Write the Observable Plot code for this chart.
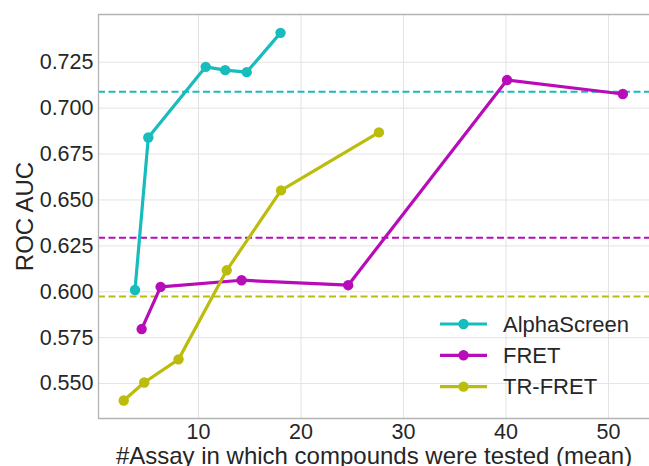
<!DOCTYPE html>
<html>
<head>
<meta charset="utf-8">
<script src="https://cdn.jsdelivr.net/npm/d3@7"></script>
<script src="https://cdn.jsdelivr.net/npm/@observablehq/plot@0.6"></script>
<style>
  html, body { margin: 0; padding: 0; background: #fff; }
  #chart svg { display: block; }
</style>
</head>
<body>
<div id="chart"></div>
<script>
// ---- Data ----
const seriesNames = ["AlphaScreen", "FRET", "TR-FRET"];
const seriesColors = ["#17bcbc", "#b80cb8", "#bcbc0c"];

const alphaX = [3.8, 5.1, 10.7, 12.6, 14.7, 18.0];
const alphaY = [0.601, 0.684, 0.7225, 0.7207, 0.7196, 0.7410];

const fretX = [4.45, 6.3, 14.2, 24.6, 40.1, 51.4];
const fretY = [0.5797, 0.6027, 0.6063, 0.6036, 0.7153, 0.7077];

const trfretX = [2.7, 4.7, 8.05, 12.75, 18.05, 27.6];
const trfretY = [0.5408, 0.5506, 0.5632, 0.6117, 0.6552, 0.6868];

const baselineY = [0.7089, 0.6294, 0.5975]; // AlphaScreen, FRET, TR-FRET

const yTicks = [0.550, 0.575, 0.600, 0.625, 0.650, 0.675, 0.700, 0.725];
const xTicks = [10, 20, 30, 40, 50];

const xLabel = "#Assay in which compounds were tested (mean)";
const yLabel = "ROC AUC";

// ---- Build tables ----
const xs = [alphaX, fretX, trfretX];
const ys = [alphaY, fretY, trfretY];
const points = [];
seriesNames.forEach((name, i) => {
  xs[i].forEach((x, j) => points.push({series: name, x, y: ys[i][j]}));
});
const baselines = seriesNames.map((name, i) => ({series: name, y: baselineY[i]}));

const font = "'Liberation Sans', Arial, Helvetica, sans-serif";
const textColor = "#262626";

const chart = Plot.plot({
  width: 649,
  height: 466,
  marginLeft: 98,
  marginRight: 0,
  marginTop: 14,
  marginBottom: 48,
  style: {fontFamily: font, fontSize: "21px", color: textColor, background: "#fff", overflow: "visible"},
  x: {domain: [0.24, 54.0], ticks: xTicks, tickFormat: d => String(d), label: null},
  y: {domain: [0.531, 0.751], ticks: yTicks, tickFormat: d3.format(".3f"), label: null},
  color: {domain: seriesNames, range: seriesColors},
  marks: [
    Plot.gridX(xTicks, {stroke: "#e3e3e3", strokeOpacity: 1, strokeWidth: 1}),
    Plot.gridY(yTicks, {stroke: "#e3e3e3", strokeOpacity: 1, strokeWidth: 1}),
    Plot.axisX({ticks: xTicks, tickSize: 0, tickPadding: 5, fontSize: 21.5, label: null, tickFormat: d => String(d)}),
    Plot.axisY({ticks: yTicks, tickSize: 0, tickPadding: 5, fontSize: 21.5, label: null, tickFormat: d3.format(".3f")}),
    Plot.ruleY(baselines, {y: "y", stroke: "series", strokeWidth: 2, strokeDasharray: "7,3.5"}),
    Plot.line(points, {x: "x", y: "y", z: "series", stroke: "series", strokeWidth: 3.2, strokeLinejoin: "round"}),
    Plot.dot(points, {x: "x", y: "y", fill: "series", r: 5.2, stroke: "none"}),
    Plot.ruleX([0.24], {stroke: "#b3b3b3", strokeWidth: 1.3}),
    Plot.ruleY([0.531, 0.751], {stroke: "#b3b3b3", strokeWidth: 1.3}),
    Plot.text([xLabel], {frameAnchor: "bottom", dy: 38, text: d => d, fontSize: 24, lineAnchor: "middle", textAnchor: "middle", fill: textColor}),
    Plot.text([yLabel], {frameAnchor: "left", dx: -73, rotate: -90, text: d => d, fontSize: 24, lineAnchor: "middle", textAnchor: "middle", fill: textColor})
  ]
});

// ---- Legend (inside plot, lower right) ----
const svg = d3.select(chart);
const leg = svg.append("g").attr("font-family", font).attr("font-size", 22).attr("fill", textColor).attr("text-anchor", "start");
seriesNames.forEach((name, i) => {
  const cy = 324 + i * 31.3;
  const g = leg.append("g").attr("transform", `translate(0,${cy})`);
  g.append("line").attr("x1", 440).attr("x2", 487).attr("y1", 0).attr("y2", 0)
    .attr("stroke", seriesColors[i]).attr("stroke-width", 3.2);
  g.append("circle").attr("cx", 463.5).attr("cy", 0).attr("r", 5.2).attr("fill", seriesColors[i]);
  g.append("text").attr("x", 503).attr("y", 0).attr("dy", "0.35em").attr("text-anchor", "start").text(name);
});

document.getElementById("chart").appendChild(chart);
</script>
</body>
</html>
